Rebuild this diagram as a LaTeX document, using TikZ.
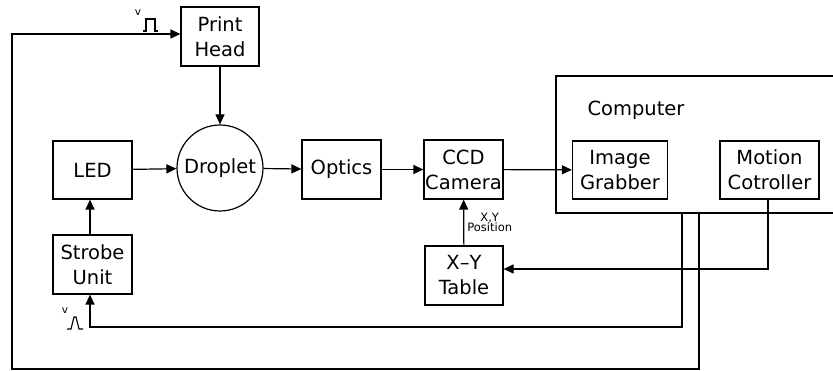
\documentclass[tikz,border=0pt]{standalone}
\usepackage{fontspec}
\setmainfont{DejaVu Sans}
\usetikzlibrary{arrows.meta}
\begin{document}
\begin{tikzpicture}[x=1pt,y=-1pt,
  every node/.style={font=\fontsize{19.5}{25}\selectfont, inner sep=0pt, align=center},
  box/.style={draw, line width=1.2pt},
  conn/.style={line width=1.2pt},
  arr/.style={conn, -{Triangle[length=10pt,width=9pt]}},
  small/.style={font=\fontsize{11.5}{10.5}\selectfont},
  tiny/.style={font=\fontsize{10.5}{10}\selectfont},
  pulse/.style={line width=1.1pt}]
\useasboundingbox (0,0) rectangle (833,371);
% nodes
\node[box, minimum width=78, minimum height=59] (ph) at (220,36.5) {Print\\Head};
\node[box, minimum width=79, minimum height=58] (led) at (92.5,170) {LED};
\node[box, minimum width=79, minimum height=59] (strobe) at (92.5,264.5) {Strobe\\Unit};
\node[box, circle, minimum size=86] (drop) at (220,168) {Droplet};
\node[box, minimum width=79, minimum height=59] (optics) at (341.5,169.5) {Optics};
\node[box, minimum width=79, minimum height=59] (ccd) at (463.5,169.5) {CCD\\Camera};
\node[box, minimum width=95, minimum height=58] (ig) at (620,170) {Image\\Grabber};
\node[box, minimum width=99, minimum height=58] (mc) at (769.5,170) {Motion\\Cotroller};
\node[box, minimum width=78, minimum height=59] (xy) at (464,275.5) {X--Y\\Table};
\node (comp) at (636,110) {Computer};
\draw[box] (833,76) -- (556,76) -- (556,213) -- (833,213);
% coordinates
\coordinate (c0) at (90,0);
\coordinate (pa) at (682,213);
\coordinate (pb) at (682,327);
\coordinate (qa) at (699,213);
\coordinate (qb) at (699,369);
\coordinate (qc) at (12,369);
\coordinate (qd) at (12,34);
\coordinate (ma) at (768,269);
% connectors
\draw[arr] (ph) -- (drop);
\draw[arr] (led) -- (drop);
\draw[arr] (drop) -- (optics);
\draw[arr] (optics) -- (ccd);
\draw[arr] (ccd) -- (ig);
\draw[arr] (strobe.north -| c0) -- (led.south -| c0);
\draw[arr] (xy) -- node[small, right=3pt, pos=0.5, align=center] {X,Y\\Position} (ccd);
\draw[arr] (mc.south -| ma) -- (ma) -- (ma -| xy.east);
\draw[arr] (pa) -- (pb) -- (pb -| c0) -- (strobe.south -| c0);
\draw[arr] (qa) -- (qb) -- (qc) -- (qd) -- (qd -| ph.west);
% pulse symbols
\node[tiny] (v1) at (138,13) {v};
\draw[pulse] (143,31) -- (146,31) -- (146,19) -- (155,19) -- (155,31) -- (158,31);
\node[tiny] (v2) at (65,311) {v};
\draw[pulse] (67,329) -- (71,329) -- (74,317) -- (76,317) -- (79,329) -- (83,329);
\end{tikzpicture}
\end{document}
